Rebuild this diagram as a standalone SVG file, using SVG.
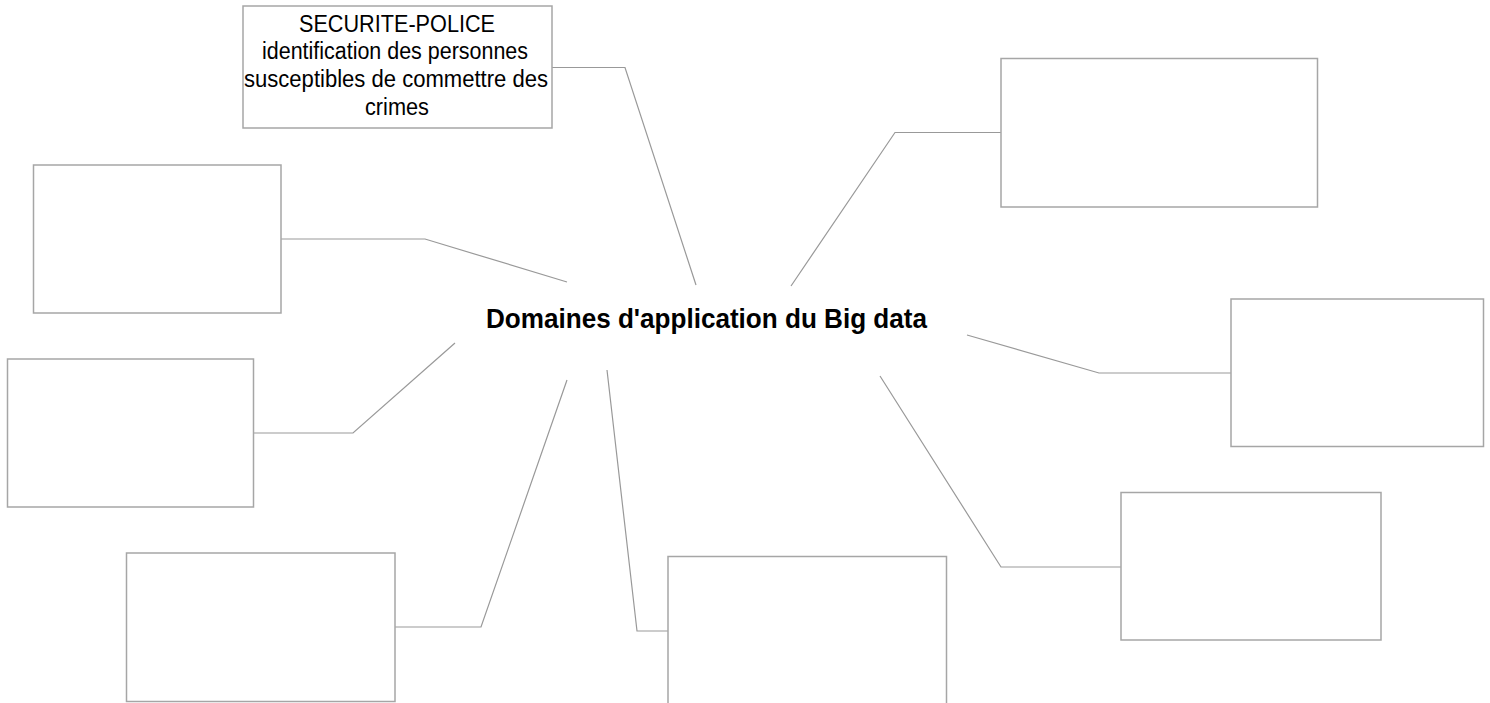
<svg xmlns="http://www.w3.org/2000/svg" width="1490" height="703" viewBox="0 0 1490 703">
<style>
.box{fill:#ffffff;stroke:#a6a6a6;stroke-width:1.5}
.conn{fill:none;stroke:#999999;stroke-width:1.2}
.lbl{font-family:"Liberation Sans",Arial,sans-serif;font-size:23.5px;fill:#000000;text-anchor:middle}
.title{font-family:"Liberation Sans",Arial,sans-serif;font-size:28px;font-weight:bold;fill:#000000;text-anchor:middle}
</style>
<rect width="1490" height="703" fill="#ffffff"/>
<g id="connectors">
<polyline class="conn" points="552,67.5 625,67.5 696,285"/>
<polyline class="conn" points="281,239 425,239 567,282"/>
<polyline class="conn" points="254,433 353,433 455,343"/>
<polyline class="conn" points="395,627 481,627 567,380"/>
<polyline class="conn" points="668,631 637,631 607,370"/>
<polyline class="conn" points="1001,132.5 895,132.5 791,286"/>
<polyline class="conn" points="1231,373 1099,373 967,335"/>
<polyline class="conn" points="1121,567 1001,567 880,376"/>
</g>
<g id="center">
<text class="title" x="706.5" y="328" textLength="441" lengthAdjust="spacingAndGlyphs">Domaines d'application du Big data</text>
</g>
<g id="node-securite">
<rect class="box" x="243" y="6" width="309" height="122"/>
<text class="lbl" x="397" y="31.5" textLength="196" lengthAdjust="spacingAndGlyphs">SECURITE-POLICE</text>
<text class="lbl" x="395" y="59" textLength="266" lengthAdjust="spacingAndGlyphs">identification des personnes</text>
<text class="lbl" x="396" y="86.5" textLength="304" lengthAdjust="spacingAndGlyphs">susceptibles de commettre des</text>
<text class="lbl" x="397" y="114.5" textLength="64" lengthAdjust="spacingAndGlyphs">crimes</text>
</g>
<g id="node-left1"><rect class="box" x="33.5" y="165" width="247.5" height="148"/></g>
<g id="node-left2"><rect class="box" x="7.5" y="359" width="246" height="148"/></g>
<g id="node-left3"><rect class="box" x="126.5" y="553" width="268.5" height="148.5"/></g>
<g id="node-bottom"><rect class="box" x="668" y="556.5" width="278.5" height="160"/></g>
<g id="node-right1"><rect class="box" x="1001" y="58.5" width="316.5" height="148.5"/></g>
<g id="node-right2"><rect class="box" x="1231" y="299" width="252.5" height="147.5"/></g>
<g id="node-right3"><rect class="box" x="1121" y="492.5" width="260" height="147.5"/></g>
</svg>
